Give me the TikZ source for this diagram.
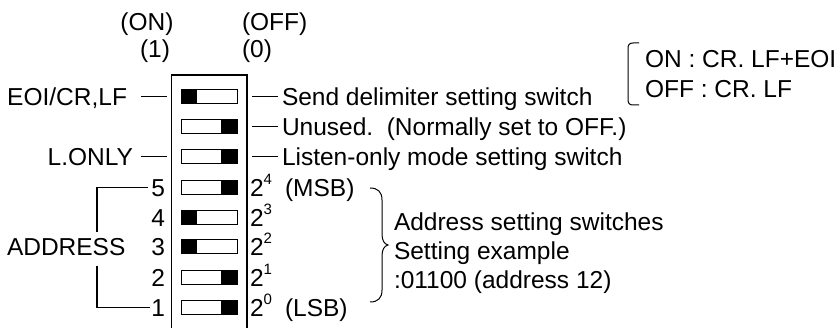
\documentclass[tikz,border=0pt]{standalone}
\usepackage{fontspec}
\setmainfont{Liberation Sans}
\usetikzlibrary{calc}
\newcommand{\supfig}[2]{#1\raisebox{12pt}{\fontsize{15}{15}\selectfont #2}}
\begin{document}
\begin{tikzpicture}[x=1pt,y=-1pt,
  every node/.style={inner sep=0pt,outer sep=0pt,font=\fontsize{24.5}{29}\selectfont},
  ln/.style={line width=1.2pt},
  swbox/.style={draw,line width=1pt,minimum width=56pt,minimum height=14pt},
  lbl/.style={anchor=base west},
  lblr/.style={anchor=base east}]
\useasboundingbox (0,0) rectangle (839,328);
% top labels
\node[anchor=base] (on) at (147,31) {(ON)};
\node[lbl] (off) at (242,31) {(OFF)};
\node[lblr] (one) at (170,58) {(1)};
\node[lbl] (zero) at (242,58) {(0)};
% housing
\coordinate (hbl) at (171.5,330);
\coordinate (htl) at (171.5,75);
\coordinate (htr) at (247,75);
\coordinate (hbr) at (247,330);
\draw[ln] (hbl) -- (htl) -- (htr) -- (hbr);
% switches: name, y, side
\foreach \n/\y/\s in {s1/96.5/L,s2/126.5/R,s3/156.5/R,a5/187.5/R,a4/217.5/L,a3/247/L,a2/277.5/R,a1/307.5/R}{
  \node[swbox] (\n) at (209,\y) {};
  \if\s L
    \fill ($(\n.south west)$) rectangle ($(\n.north west)+(16,0)$);
  \else
    \fill ($(\n.south east)-(16,0)$) rectangle ($(\n.north east)$);
  \fi
  \draw[line width=1pt] (\n.south west) rectangle (\n.north east);
}
% left labels
\node[lblr] (eoi) at (127,105.3) {EOI/CR,LF};
\node[lblr] (lonly) at (133,165.3) {L.ONLY};
\draw[ln] (141,96.5) coordinate (d1a) -- (167,96.5) coordinate (d1b);
\draw[ln] (141,156.5) coordinate (d3a) -- (167,156.5) coordinate (d3b);
% right labels
\foreach \n/\y in {s1/96.5,s2/126.5,s3/156.5}{
  \draw[ln] (252,\y) -- (278,\y);
}
\node[lbl] (t1) at (282,105.3) {Send delimiter setting switch};
\node[lbl] (t2) at (282,135.3) {Unused.\ \ (Normally set to OFF.)};
\node[lbl] (t3) at (282,165.3) {Listen-only mode setting switch};
% address numbers
\foreach \n/\y/\k in {a5/187.5/5,a4/217.5/4,a3/247/3,a2/277.5/2,a1/307.5/1}{
  \node[lblr] (n\k) at (165,\y+8.8) {\k};
}
\foreach \y/\k in {187.5/4,217.5/3,247/2,277.5/1,307.5/0}{
  \node[lbl] (p\k) at (250,\y+8.8) {\supfig{2}{\k}};
}
\node[lbl] (msb) at (285,196.3) {(MSB)};
\node[lbl] (lsb) at (285,316.3) {(LSB)};
\node[lbl] (addr) at (7,255.8) {ADDRESS};
\draw[ln] (148,187.5) -- (97,187.5) -- (97,232);
\draw[ln] (97,266) -- (97,307.5) -- (150,307.5);
% brace
\draw[line width=1pt] (370,188) .. controls (378,188) and (382,192) .. (382,200)
  -- (382,234) .. controls (382,240) and (384,244) .. (388,245)
  .. controls (384,246) and (382,250) .. (382,256)
  -- (382,290) .. controls (382,298) and (378,302) .. (370,302);
\node[lbl] (bt1) at (394,230.5) {Address setting switches};
\node[lbl] (bt2) at (394,259.5) {Setting example};
\node[lbl] (bt3) at (394,288.5) {:01100 (address 12)};
% top right bracket
\draw[line width=1pt] (639,43) -- (633,43) .. controls (629,43) and (628,45) .. (628,49)
  -- (628,99) .. controls (628,103) and (629,105) .. (633,105) -- (639,105);
\node[lbl] (on2) at (645,67.8) {ON : CR. LF+EOI};
\node[lbl] (off2) at (645,97.8) {OFF : CR. LF};
\end{tikzpicture}
\end{document}
